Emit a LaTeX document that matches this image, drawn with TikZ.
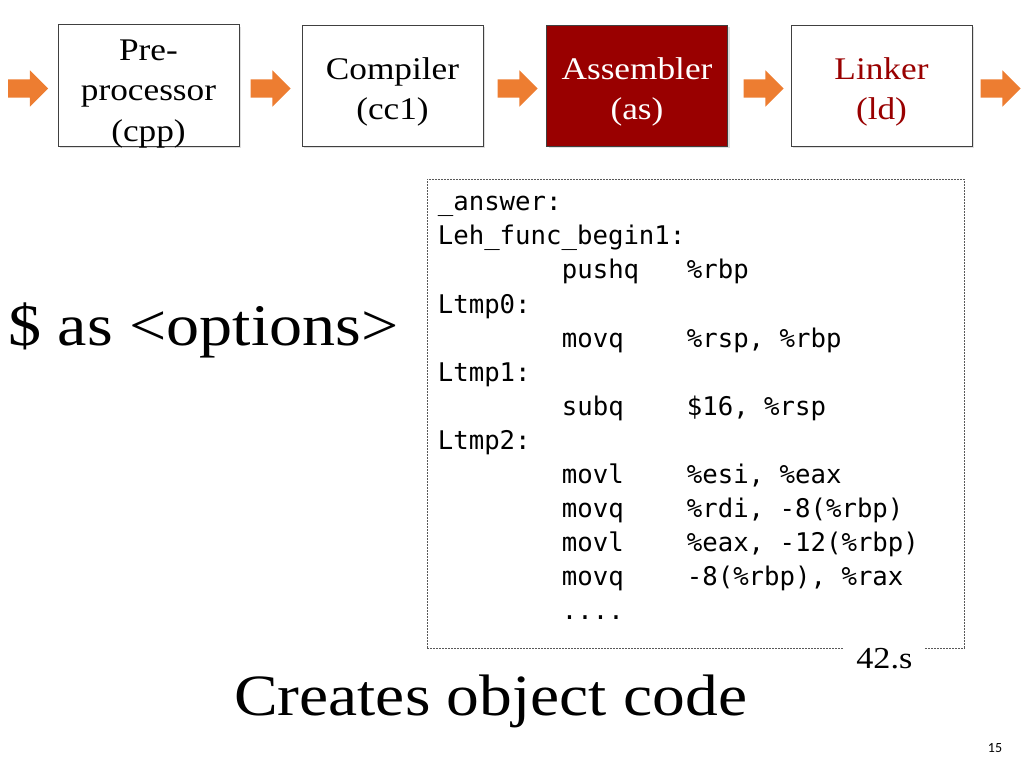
\documentclass[tikz,border=0pt]{standalone}
\usepackage{fontspec}
\setmainfont{Liberation Serif}[FakeStretch=1.12]
\newfontfamily\codefont{DejaVu Sans Mono}
\newfontfamily\pagefont{Carlito}
\usetikzlibrary{arrows,shapes.arrows,shadows}
\usetikzlibrary{positioning}

\definecolor{darkred}{HTML}{990000}
\definecolor{flow}{HTML}{ED7D31}

\tikzset{
  stage/.style={draw=black!75, fill=white, line width=0.8pt,
    minimum width=181pt, minimum height=121pt, inner sep=0pt,
    font=\fontsize{31.5}{40.5}\selectfont,
    drop shadow={shadow xshift=2pt, shadow yshift=-2pt, opacity=0.25}},
  flowarrow/.style={single arrow, fill=flow, draw=none, inner sep=9pt,
    minimum height=40pt, single arrow head extend=9pt},
  codebox/.style={draw=black!65, line width=0.7pt, dash pattern=on 2pt off 1pt,
    minimum width=537pt, minimum height=469pt}
}

\begin{document}
\begin{tikzpicture}[x=1pt, y=-1pt]
    \useasboundingbox (0,0) rectangle (1024,768);

    % STAGES
    \node[stage] (PRE_PROCESSOR) at (148.5,85.5)
    {
      \raisebox{-7pt}[\height][\depth]{\begin{tabular}{@{}c@{}}
        Pre-\\processor\\(cpp)
      \end{tabular}}
    };

    \node[stage,
      node distance=244pt,
      right of=PRE_PROCESSOR] (COMPILER)
    {
      \raisebox{-6pt}[\height][\depth]{\begin{tabular}{@{}c@{}}
        Compiler\\(cc1)
      \end{tabular}}
    };

    \node[stage,
      node distance=244.5pt,
      right of=COMPILER,
      fill=darkred, text=white] (ASSEMBLER)
    {
      \raisebox{-6pt}[\height][\depth]{\begin{tabular}{@{}c@{}}
        Assembler\\(as)
      \end{tabular}}
    };

    \node[stage,
      node distance=244.5pt,
      right of=ASSEMBLER,
      text=darkred] (LINKER)
    {
      \raisebox{-6pt}[\height][\depth]{\begin{tabular}{@{}c@{}}
        Linker\\(ld)
      \end{tabular}}
    };

    % ARROWS
    \node[flowarrow, node distance=125pt, left of=PRE_PROCESSOR, yshift=-3pt] (ARROW_IN) {};
    \node[flowarrow, node distance=126.5pt, left of=COMPILER, yshift=-3pt] (ARROW_CPP) {};
    \node[flowarrow, node distance=124pt, left of=ASSEMBLER, yshift=-3pt] (ARROW_CC) {};
    \node[flowarrow, node distance=122.5pt, left of=LINKER, yshift=-3pt] (ARROW_AS) {};
    \node[flowarrow, node distance=114.5pt, right of=LINKER, yshift=-3pt] (ARROW_OUT) {};

    % COMMAND
    \node[anchor=base west, inner sep=0pt, font=\fontsize{59}{62}\selectfont] (COMMAND) at (8,345)
    {\$ as <options>};

    % ASSEMBLY FILE
    \node[codebox] (CODE_FILE) at (695.5,413.5) {};

    \node[anchor=north west, inner sep=0pt,
      font=\codefont\fontsize{25.7}{34.1}\selectfont] (CODE)
      at ([xshift=11pt,yshift=-8pt]CODE_FILE.north west)
    {
      \begin{tabular}{@{}p{124pt}@{}p{125pt}@{}l@{}}
        \multicolumn{3}{@{}l@{}}{\_answer:}\\
        \multicolumn{3}{@{}l@{}}{Leh\_func\_begin1:}\\
        & pushq & \%rbp\\
        \multicolumn{3}{@{}l@{}}{Ltmp0:}\\
        & movq & \%rsp, \%rbp\\
        \multicolumn{3}{@{}l@{}}{Ltmp1:}\\
        & subq & \$16, \%rsp\\
        \multicolumn{3}{@{}l@{}}{Ltmp2:}\\
        & movl & \%esi, \%eax\\
        & movq & \%rdi, -8(\%rbp)\\
        & movl & \%eax, -12(\%rbp)\\
        & movq & -8(\%rbp), \%rax\\
        & .... & \\
      \end{tabular}
    };

    \node[fill=white, inner xsep=13pt, anchor=base,
      font=\fontsize{30.5}{34}\selectfont] (FILE_NAME)
      at ([xshift=-80pt,yshift=-20pt]CODE_FILE.south east) {42.s};

    % CAPTION
    \node[anchor=base, inner sep=0pt, font=\fontsize{58.5}{62}\selectfont] (CAPTION) at (490.5,715)
    {Creates object code};

    \node[font=\pagefont\fontsize{14}{16}\selectfont] (PAGE_NUM) at (995,748) {15};
\end{tikzpicture}
\end{document}
